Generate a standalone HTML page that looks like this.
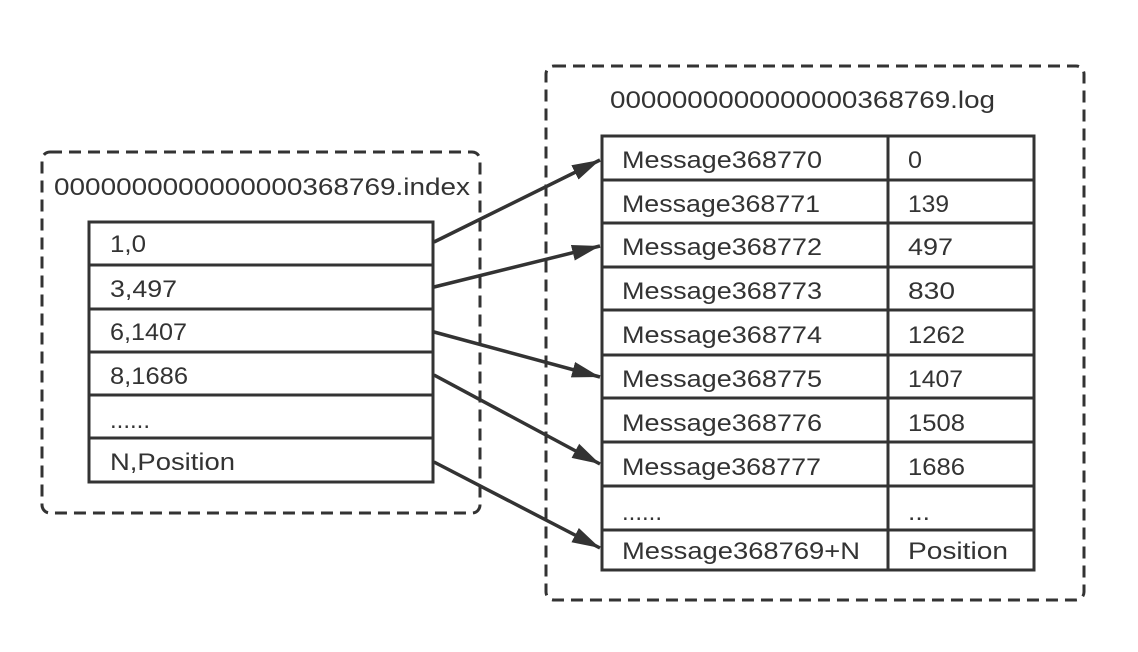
<!DOCTYPE html>
<html><head><style>
html,body{margin:0;padding:0;background:#fff;}
body{width:1138px;height:652px;position:relative;overflow:hidden;}
svg{position:absolute;left:0;top:0;}
text{font-family:"Liberation Sans",sans-serif;fill:#333;}
</style></head><body>
<svg width="1138" height="652" viewBox="0 0 1138 652">
<defs>
<marker id="b" markerWidth="30" markerHeight="20" refX="28" refY="10" orient="auto" markerUnits="userSpaceOnUse"><path d="M0,2 L28,10 L0,18 Z" fill="#333"/></marker></defs>
<g fill="none" stroke="#333" stroke-width="3" stroke-dasharray="12,7">
<rect x="42" y="152" width="438" height="361" rx="8"/>
<rect x="546" y="66" width="538" height="534" rx="8"/>
</g>
<g font-size="24">
<text x="54" y="195" textLength="416" lengthAdjust="spacingAndGlyphs">0000000000000000368769.index</text>
<text x="610" y="108" textLength="385" lengthAdjust="spacingAndGlyphs">0000000000000000368769.log</text>
</g>
<g fill="#fff" stroke="#333" stroke-width="3">
<rect x="89" y="222" width="344" height="260"/>
<rect x="602" y="136" width="432" height="434"/>
</g>
<g stroke="#333" stroke-width="3">
<line x1="89" y1="265" x2="433" y2="265"/><line x1="89" y1="309" x2="433" y2="309"/>
<line x1="89" y1="352" x2="433" y2="352"/><line x1="89" y1="395" x2="433" y2="395"/>
<line x1="89" y1="438" x2="433" y2="438"/>
<line x1="888" y1="136" x2="888" y2="570"/>
<line x1="602" y1="180" x2="1034" y2="180"/><line x1="602" y1="223" x2="1034" y2="223"/>
<line x1="602" y1="267" x2="1034" y2="267"/><line x1="602" y1="310" x2="1034" y2="310"/>
<line x1="602" y1="355" x2="1034" y2="355"/><line x1="602" y1="398" x2="1034" y2="398"/>
<line x1="602" y1="442" x2="1034" y2="442"/><line x1="602" y1="486" x2="1034" y2="486"/>
<line x1="602" y1="530" x2="1034" y2="530"/>
</g>
<g font-size="24">
<text x="110" y="252" textLength="36" lengthAdjust="spacingAndGlyphs">1,0</text>
<text x="110" y="297" textLength="67" lengthAdjust="spacingAndGlyphs">3,497</text>
<text x="110" y="340" textLength="77" lengthAdjust="spacingAndGlyphs">6,1407</text>
<text x="110" y="384" textLength="78" lengthAdjust="spacingAndGlyphs">8,1686</text>
<text x="110" y="428" textLength="40" lengthAdjust="spacingAndGlyphs">......</text>
<text x="110" y="470" textLength="125" lengthAdjust="spacingAndGlyphs">N,Position</text>
<text x="622" y="168" textLength="200" lengthAdjust="spacingAndGlyphs">Message368770</text><text x="908" y="168" textLength="14" lengthAdjust="spacingAndGlyphs">0</text>
<text x="622" y="212" textLength="198" lengthAdjust="spacingAndGlyphs">Message368771</text><text x="908" y="212" textLength="41" lengthAdjust="spacingAndGlyphs">139</text>
<text x="622" y="255" textLength="200" lengthAdjust="spacingAndGlyphs">Message368772</text><text x="908" y="255" textLength="45" lengthAdjust="spacingAndGlyphs">497</text>
<text x="622" y="299" textLength="200" lengthAdjust="spacingAndGlyphs">Message368773</text><text x="908" y="299" textLength="47" lengthAdjust="spacingAndGlyphs">830</text>
<text x="622" y="343" textLength="200" lengthAdjust="spacingAndGlyphs">Message368774</text><text x="908" y="343" textLength="57" lengthAdjust="spacingAndGlyphs">1262</text>
<text x="622" y="387" textLength="200" lengthAdjust="spacingAndGlyphs">Message368775</text><text x="908" y="387" textLength="55" lengthAdjust="spacingAndGlyphs">1407</text>
<text x="622" y="431" textLength="200" lengthAdjust="spacingAndGlyphs">Message368776</text><text x="908" y="431" textLength="57" lengthAdjust="spacingAndGlyphs">1508</text>
<text x="622" y="475" textLength="199" lengthAdjust="spacingAndGlyphs">Message368777</text><text x="908" y="475" textLength="57" lengthAdjust="spacingAndGlyphs">1686</text>
<text x="622" y="520" textLength="40" lengthAdjust="spacingAndGlyphs">......</text><text x="908" y="520" textLength="22" lengthAdjust="spacingAndGlyphs">...</text>
<text x="622" y="559" textLength="238" lengthAdjust="spacingAndGlyphs">Message368769+N</text><text x="908" y="559" textLength="100" lengthAdjust="spacingAndGlyphs">Position</text>
</g>
<g stroke="#333" stroke-width="3.5" marker-end="url(#b)">
<line x1="434" y1="242" x2="600" y2="160"/>
<line x1="434" y1="287" x2="600" y2="246"/>
<line x1="434" y1="332" x2="600" y2="377"/>
<line x1="434" y1="375" x2="600" y2="464"/>
<line x1="434" y1="462" x2="600" y2="548"/>
</g>
</svg>
</body></html>
